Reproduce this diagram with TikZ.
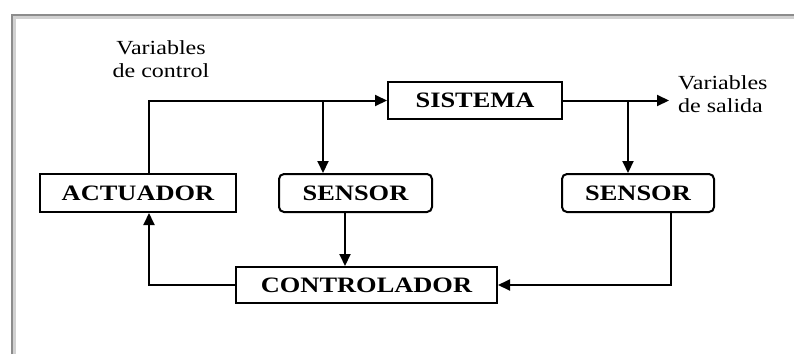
\documentclass[tikz,border=0pt]{standalone}
\usepackage{fontspec}
\setmainfont{Liberation Serif}[FakeStretch=1.2]
\usetikzlibrary{arrows.meta}
\begin{document}
\begin{tikzpicture}[x=1pt,y=-1pt,
  conn/.style={line width=2pt},
  arr/.style={conn,-{Triangle[length=12pt,width=11pt]}},
  blk/.style={draw,line width=2pt,inner sep=0pt,font=\fontsize{22}{24}\selectfont\bfseries},
  rblk/.style={blk,rounded corners=5pt},
  lbl/.style={inner sep=0pt,font=\fontsize{20}{23}\selectfont}]
\useasboundingbox (0,0) rectangle (794,354);
\fill[white] (0,0) rectangle (794,354);
% frame
\draw[line width=5pt,black!18] (13,354) -- (13,16) -- (794,16);
\draw[line width=2pt,black!45] (12,354) -- (12,15) -- (794,15);
% blocks
\node[blk,minimum width=174pt,minimum height=37pt] (sis) at (475,100.5) {SISTEMA};
\node[blk,minimum width=196pt,minimum height=38pt] (act) at (138,193) {ACTUADOR};
\node[rblk,minimum width=153pt,minimum height=38pt] (sen1) at (355.5,193) {SENSOR};
\node[rblk,minimum width=152pt,minimum height=38pt] (sen2) at (638,193) {SENSOR};
\node[blk,minimum width=261pt,minimum height=36pt] (ctrl) at (366.5,285) {CONTROLADOR};
% labels
\node[lbl,align=center] (vc) at (161,59) {Variables\\de control};
\node[lbl,align=left,anchor=west] (vs) at (678,94) {Variables\\de salida};
% coordinates
\coordinate (c1) at (149,100.5);
\coordinate (b1) at (323,100.5);
\coordinate (b2) at (628,100.5);
\coordinate (out) at (669,100.5);
\coordinate (c2) at (149,285);
\coordinate (c3) at (671,285);
% connectors
\draw[arr] (act.north -| c1) -- (c1) -- (sis.west);
\draw[arr] (b1) -- (b1 |- sen1.north);
\draw[arr] (sis.east) -- (out);
\draw[arr] (b2) -- (b2 |- sen2.north);
\draw[arr] (sen1.south -| 345,0) -- (ctrl.north -| 345,0);
\draw[arr] (ctrl.west) -- (c2) -- (act.south -| c2);
\draw[arr] (sen2.south -| c3) -- (c3) -- (ctrl.east);
\end{tikzpicture}
\end{document}
